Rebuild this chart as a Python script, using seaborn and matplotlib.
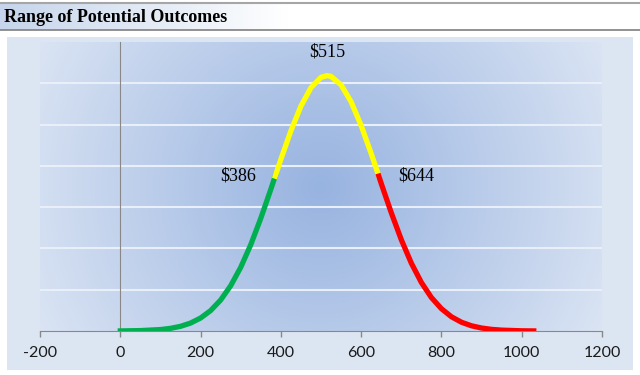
import matplotlib.pyplot as plt
import matplotlib as mpl
import numpy as np
import pandas as pd
import seaborn as sns
from matplotlib.colors import to_rgb
from matplotlib.patches import Rectangle

# values (outcome, density)
outcome = [0, 50, 100, 125, 150, 175, 200, 225, 250, 275, 300, 325, 350, 375, 386,
           400, 425, 450, 475, 500, 515, 525, 550, 575, 600, 625, 644,
           650, 675, 700, 725, 750, 775, 800, 825, 850, 875, 900, 925, 950, 1000, 1030]
density = [0.000001, 0.000005, 0.0000175, 0.000032, 0.0000565, 0.0000958, 0.000157,
           0.000247, 0.000375, 0.000548, 0.000771, 0.001045, 0.001365, 0.001716,
           0.001876, 0.002079, 0.002425, 0.002724, 0.002947, 0.003072,
           0.003093, 0.003084, 0.002981, 0.002776, 0.002489, 0.00215,
           0.001876, 0.001787, 0.001433, 0.001106, 0.000822, 0.000588,
           0.000405, 0.00027, 0.000172, 0.000106, 0.000063, 0.000036, 0.0000198,
           0.0000105, 0.0000026, 0.000001]
low_mark, mid_mark, high_mark = 386, 515, 644
xticks = [-200, 0, 200, 400, 600, 800, 1000, 1200]

df = pd.DataFrame({"outcome": outcome, "density": density})
parts = [df[df.outcome <= low_mark].assign(zone="low"),
         df[(df.outcome >= low_mark) & (df.outcome <= high_mark)].assign(zone="mid"),
         df[df.outcome >= high_mark].assign(zone="high")]
curve = pd.concat(parts, ignore_index=True)
zone_colors = {"low": "#00b050", "mid": "#ffff00", "high": "#ff0000"}

W, H = 640, 375
fig = plt.figure(figsize=(6.4, 3.75), dpi=100)
fig.patch.set_facecolor("white")

# title bar
tb = fig.add_axes([0, (H - 30) / H, 1, 27 / H])
grad = np.linspace(0, 1, 640)
c0, c1 = np.array(to_rgb("#c6d5eb")), np.array(to_rgb("#ffffff"))
t = np.clip(grad / 0.45, 0, 1)[None, :, None]
tb.imshow(c0 * (1 - t) + c1 * t, aspect="auto", extent=[0, 1, 0, 1])
tb.set_xlim(0, 1); tb.set_ylim(0, 1)
tb.axis("off")
tb.text(4 / W, 0.45, "Range of Potential Outcomes", fontsize=13, fontweight="bold",
        family="Liberation Serif", va="center", ha="left")
fig.add_artist(plt.Line2D([0, 1], [(H - 3) / H] * 2, color="#a6a6a6", lw=1.5))
fig.add_artist(plt.Line2D([0, 1], [(H - 30) / H] * 2, color="#7f7f7f", lw=1.2))

# chart background
fig.add_artist(Rectangle((7 / W, 5 / H), 626 / W, 333 / H, transform=fig.transFigure,
                         facecolor="#dce6f2", edgecolor="none", zorder=0))

ax = fig.add_axes([40 / W, 44 / H, 562 / W, 289 / H])
ax.patch.set_alpha(0)

# radial shading of plot area
px, py = np.meshgrid(np.arange(562), np.arange(289))
r = np.sqrt((px - 280) ** 2 + (py - 145) ** 2) / 310
r = np.clip(r, 0, 1)[..., None]
inner, outer = np.array(to_rgb("#97b3e0")), np.array(to_rgb("#d9e3f3"))
ax.imshow(inner * (1 - r) + outer * r, aspect="auto", extent=[-200, 1200, 0, 0.0035],
          zorder=0, origin="upper")

sns.lineplot(data=curve, x="outcome", y="density", hue="zone", palette=zone_colors,
             units="zone", estimator=None, sort=False, lw=3.8, legend=False, ax=ax,
             zorder=3)

ax.set_xlim(-200, 1200)
ax.set_ylim(0, 0.0035)
ax.set_xticks(xticks)
ax.set_xticklabels([str(v) for v in xticks], family="Lato", fontsize=11.5, color="#1a1a1a")
ax.set_yticks(np.arange(0.0005, 0.0031, 0.0005))
ax.set_yticklabels([])
ax.tick_params(axis="y", length=0)
ax.tick_params(axis="x", direction="out", length=4, width=1, color="#888888", pad=7)
ax.yaxis.grid(True, color="#e9eff8", lw=1.5, zorder=1)
ax.set_axisbelow(True)
ax.set_xlabel("")
ax.set_ylabel("")
for s in ["top", "right"]:
    ax.spines[s].set_visible(False)
ax.spines["bottom"].set_color("#888888")
ax.spines["left"].set_position(("data", 0))
ax.spines["left"].set_color("#888888")

peak = density[outcome.index(mid_mark)]
lowv = density[outcome.index(low_mark)]
highv = density[outcome.index(high_mark)]
lbl = dict(family="Liberation Serif", fontsize=13, textcoords="offset points")
ax.annotate(r"\$515", (mid_mark, peak), xytext=(0, 11), ha="center", va="bottom", **lbl)
ax.annotate(r"\$386", (low_mark, lowv), xytext=(-14, 0), ha="right", va="center", **lbl)
ax.annotate(r"\$644", (high_mark, highv), xytext=(14, 0), ha="left", va="center", **lbl)

plt.savefig("out.png", dpi=100)
